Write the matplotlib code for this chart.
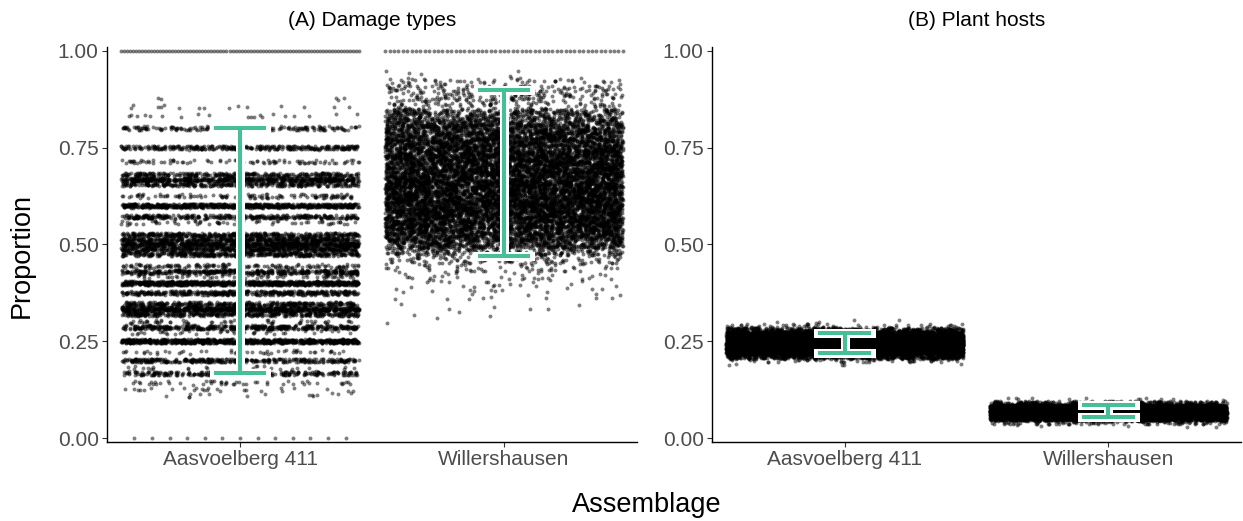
import numpy as np
import matplotlib
matplotlib.use("Agg")
import matplotlib.pyplot as plt

plt.rcParams['font.family'] = ['Liberation Sans', 'DejaVu Sans']

# ---------------- data ----------------
categories = ['Aasvoelberg 411', 'Willershausen']
panel_titles = ['(A) Damage types', '(B) Plant hosts']
y_ticks = [0.00, 0.25, 0.50, 0.75, 1.00]

# (A) Damage types, Aasvoelberg 411: discrete proportions and how many points sit at each
dt_aas_levels = [0.111, 0.125, 0.143, 0.167, 0.182, 0.200, 0.222, 0.250, 0.273, 0.286,
                 0.300, 0.320, 0.333, 0.346, 0.375, 0.400, 0.417, 0.429, 0.444, 0.475,
                 0.488, 0.500, 0.512, 0.525, 0.556, 0.571, 0.600, 0.625, 0.655, 0.667,
                 0.680, 0.714, 0.750, 0.800, 0.833, 0.857, 0.875]
dt_aas_counts = [15, 25, 50, 260, 25, 340, 50, 850, 40, 420,
                 60, 380, 700, 380, 420, 850, 60, 420, 140, 400,
                 450, 650, 450, 400, 60, 340, 700, 120, 300, 550,
                 300, 90, 330, 190, 20, 15, 5]
dt_aas_one = 80     # points at exactly 1.00
dt_aas_zero = 13    # points at exactly 0.00

# (A) Damage types, Willershausen: histogram (bin centres, width 0.02)
dt_wil_bins = [0.30, 0.32, 0.34, 0.36, 0.38, 0.40, 0.42, 0.44, 0.46, 0.48,
               0.50, 0.52, 0.54, 0.56, 0.58, 0.60, 0.62, 0.64, 0.66, 0.68,
               0.70, 0.72, 0.74, 0.76, 0.78, 0.80, 0.82, 0.84, 0.86, 0.88,
               0.90, 0.92, 0.94]
dt_wil_counts = [2, 3, 6, 10, 15, 20, 30, 55, 110, 220,
                 480, 650, 750, 800, 830, 860, 860, 860, 860, 830,
                 800, 780, 750, 720, 670, 580, 440, 330, 90, 120,
                 110, 60, 5]
dt_wil_one = 55

# (B) Plant hosts: histograms (bin centres, width 0.01)
ph_aas_bins = [0.19, 0.20, 0.21, 0.22, 0.23, 0.24, 0.25, 0.26, 0.27, 0.28, 0.29, 0.30]
ph_aas_counts = [5, 60, 500, 1200, 1600, 1800, 1800, 1500, 1000, 400, 60, 5]
ph_wil_bins = [0.03, 0.04, 0.05, 0.06, 0.07, 0.08, 0.09, 0.10]
ph_wil_counts = [5, 120, 1000, 2600, 3000, 2000, 300, 15]

# error bars (lower, upper) per assemblage
err_dt_lo = [0.167, 0.470]
err_dt_hi = [0.800, 0.900]
err_ph_lo = [0.219, 0.055]
err_ph_hi = [0.271, 0.085]

# ---------------- helpers ----------------
JIT = 0.45          # horizontal jitter half-width (category units)
_counter = [1]


def quasi(n):
    # deterministic quadratic Weyl sequences used only to spread marks (jitter)
    k = np.arange(_counter[0], _counter[0] + n, dtype=np.float64)
    _counter[0] += n
    k2 = k * k
    u = (k2 * 0.7548776662466927 + k * 0.1319) % 1.0
    w = (k2 * 0.5698402909980532 + k * 0.4142) % 1.0
    return u, w


def expand(values, counts, spread):
    xs, ys = [], []
    for v, c in zip(values, counts):
        u, w = quasi(c)
        xs.append((u - 0.5) * 2 * JIT)
        ys.append(v + (w - 0.5) * 2 * spread)
    return np.concatenate(xs), np.concatenate(ys)


def row(value, n, half):
    return np.linspace(-half, half, n), np.full(n, value)


W, H, DPI = 1243, 521, 100
fig = plt.figure(figsize=(W / DPI, H / DPI), dpi=DPI)
ax_bottom = (H - 442) / H
ax_h = (442 - 46.8) / H
axA = fig.add_axes([107 / W, ax_bottom, 530 / W, ax_h])
axB = fig.add_axes([712 / W, ax_bottom, 529 / W, ax_h])

pt_kw = dict(s=8, c='black', alpha=0.5, linewidths=0)
GREEN = '#46BE97'


def draw_err(ax, lo, hi):
    xs = np.arange(len(lo))
    for col, lw, cs, z in (('white', 6.5, 'projecting', 3), (GREEN, 2.9, 'butt', 4)):
        ax.vlines(xs, lo, hi, colors=col, linewidth=lw, capstyle=cs, zorder=z)
        ax.hlines(lo, xs - 0.1, xs + 0.1, colors=col, linewidth=lw, capstyle=cs, zorder=z)
        ax.hlines(hi, xs - 0.1, xs + 0.1, colors=col, linewidth=lw, capstyle=cs, zorder=z)


# panel A
x, y = expand(dt_aas_levels, dt_aas_counts, 0.005)
axA.scatter(0 + x, y, **pt_kw)
x, y = row(1.0, dt_aas_one, JIT)
axA.scatter(0 + x, y, **pt_kw)
x, y = row(0.0, dt_aas_zero, 0.40)
axA.scatter(0 + x, y, **pt_kw)
x, y = expand(dt_wil_bins, dt_wil_counts, 0.01)
axA.scatter(1 + x, y, **pt_kw)
x, y = row(1.0, dt_wil_one, JIT)
axA.scatter(1 + x, y, **pt_kw)
draw_err(axA, err_dt_lo, err_dt_hi)

# panel B
x, y = expand(ph_aas_bins, ph_aas_counts, 0.005)
axB.scatter(0 + x, y, **pt_kw)
x, y = expand(ph_wil_bins, ph_wil_counts, 0.005)
axB.scatter(1 + x, y, **pt_kw)
draw_err(axB, err_ph_lo, err_ph_hi)

for ax, title in zip((axA, axB), panel_titles):
    ax.set_xlim(-0.504, 1.504)
    ax.set_ylim(-0.0103, 1.0103)
    ax.set_xticks(range(len(categories)))
    ax.set_xticklabels(categories)
    ax.set_yticks(y_ticks)
    ax.set_yticklabels([f'{t:.2f}' for t in y_ticks])
    for s in ('top', 'right'):
        ax.spines[s].set_visible(False)
    for s in ('left', 'bottom'):
        ax.spines[s].set_linewidth(1.0)
        ax.spines[s].set_color('black')
    ax.tick_params(axis='both', length=3.5, width=0.8, color='#333333',
                   labelcolor='#4D4D4D', labelsize=15, pad=2.5)
    ax.set_title(title, fontsize=15, color='black', pad=15)

fig.text(22 / W, 1 - 256 / H, 'Proportion', rotation=90, ha='center', va='center',
         fontsize=19.5, color='black')
fig.text(647 / W, 1 - 505 / H, 'Assemblage', ha='center', va='center',
         fontsize=19.5, color='black')

fig.savefig('out.png', dpi=DPI)
